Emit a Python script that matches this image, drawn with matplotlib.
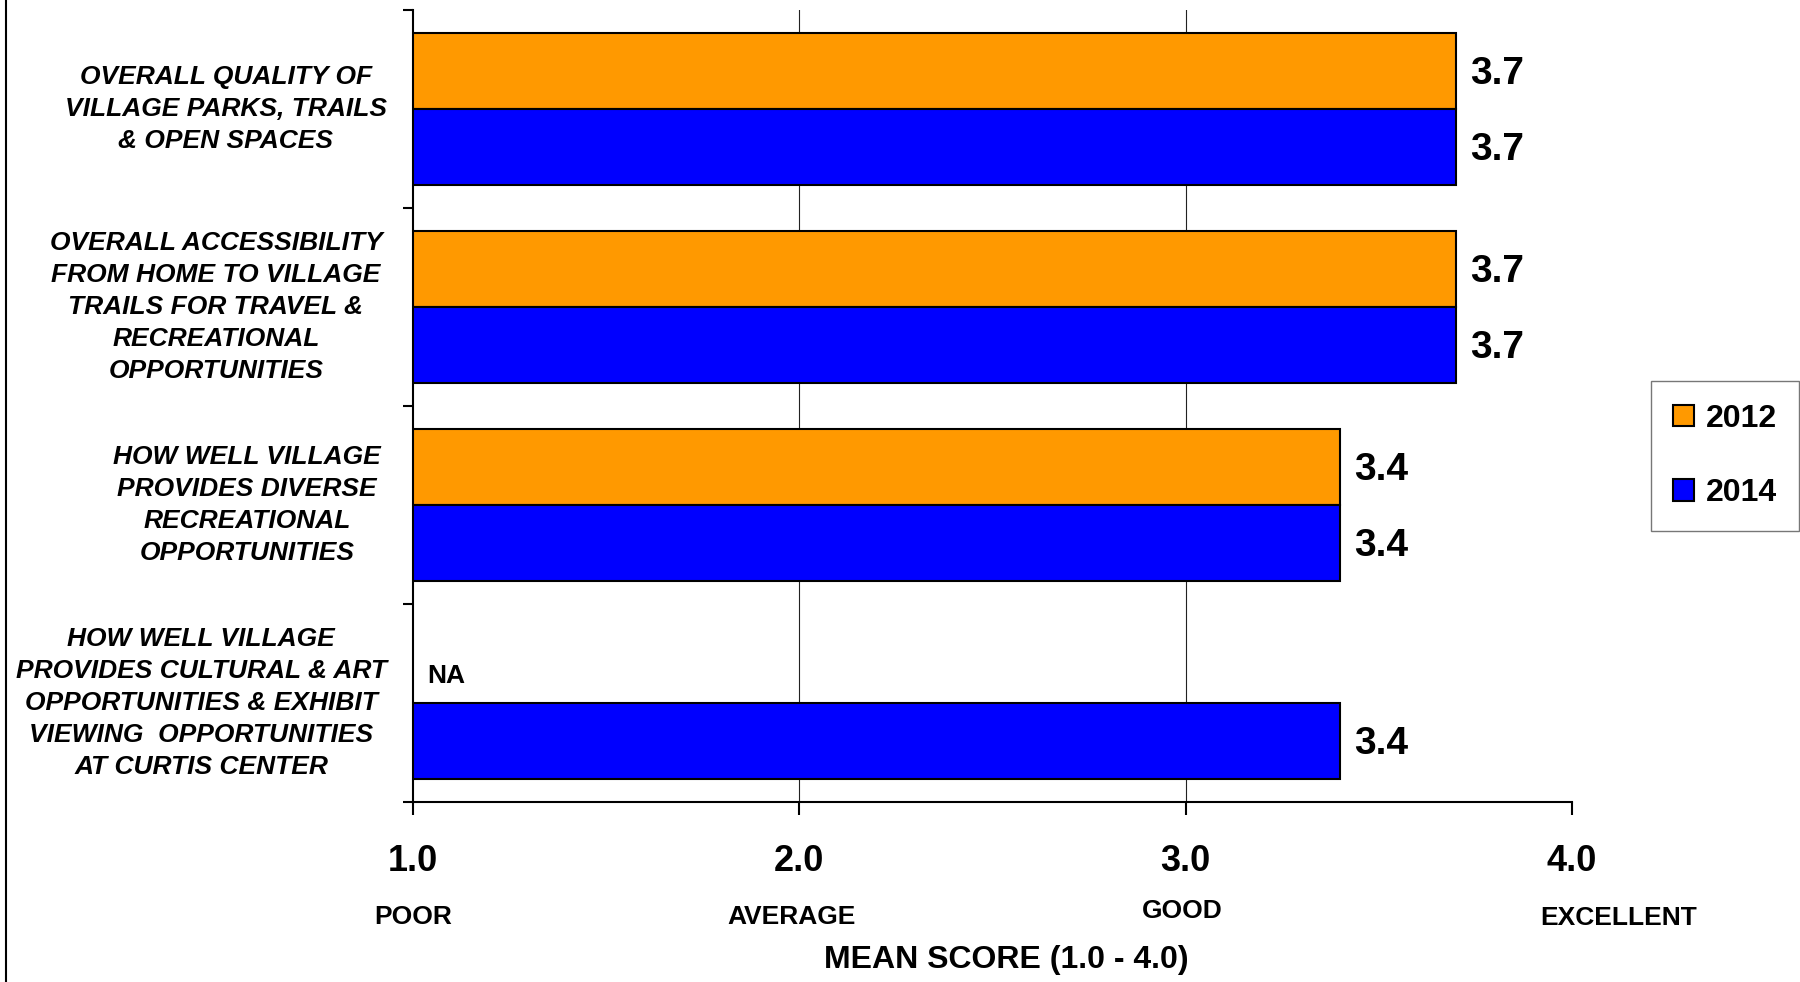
import numpy as np
import matplotlib.pyplot as plt
import matplotlib.transforms as mtransforms
from matplotlib.lines import Line2D

plt.rcParams['font.family'] = ['Liberation Sans', 'DejaVu Sans']

categories = [
    'OVERALL QUALITY OF\nVILLAGE PARKS, TRAILS\n& OPEN SPACES',
    'OVERALL ACCESSIBILITY\nFROM HOME TO VILLAGE\nTRAILS FOR TRAVEL &\nRECREATIONAL\nOPPORTUNITIES',
    'HOW WELL VILLAGE\nPROVIDES DIVERSE\nRECREATIONAL\nOPPORTUNITIES',
    'HOW WELL VILLAGE\nPROVIDES CULTURAL & ART\nOPPORTUNITIES & EXHIBIT\nVIEWING  OPPORTUNITIES\nAT CURTIS CENTER',
]
scores_2012 = [3.7, 3.7, 3.4, None]   # last item not asked in 2012
scores_2014 = [3.7, 3.7, 3.4, 3.4]
years = ['2012', '2014']
scale_ticks = [1.0, 2.0, 3.0, 4.0]
scale_words = ['POOR', 'AVERAGE', 'GOOD', 'EXCELLENT']

orange = '#FF9900'
blue = '#0000FF'

W, H = 1800, 982
fig = plt.figure(figsize=(W / 100, H / 100), dpi=100)
ax = fig.add_axes([413 / W, 1 - 802 / H, (1572 - 413) / W, (802 - 10) / H])

y = np.arange(len(categories))
bh = 0.384
base = 1.0

for i, (a, b) in enumerate(zip(scores_2012, scores_2014)):
    if a is not None:
        ax.barh(y[i] - bh / 2, a - base, left=base, height=bh, color=orange,
                edgecolor='black', linewidth=1.5, zorder=3)
        ax.annotate(f'{a:.1f}', (a, y[i] - bh / 2), xytext=(10, -2), textcoords='offset points',
                    ha='left', va='center', fontsize=28, fontweight='bold')
    else:
        ax.annotate('NA', (base, y[i] - bh / 2), xytext=(10, -8), textcoords='offset points',
                    ha='left', va='center', fontsize=19, fontweight='bold')
    ax.barh(y[i] + bh / 2, b - base, left=base, height=bh, color=blue,
            edgecolor='black', linewidth=1.5, zorder=3)
    ax.annotate(f'{b:.1f}', (b, y[i] + bh / 2), xytext=(10, -2), textcoords='offset points',
                ha='left', va='center', fontsize=28, fontweight='bold')

for gx in [2.0, 3.0]:
    ax.axvline(gx, color='#222222', linewidth=0.8, zorder=1)

ax.set_xlim(1.0, 4.0)
ax.set_ylim(len(categories) - 0.5, -0.5)
ax.set_xticks(scale_ticks)
ax.set_xticklabels([f'{t:.1f}' for t in scale_ticks], fontsize=26, fontweight='bold')
ax.set_yticks(np.arange(len(categories) + 1) - 0.5)
ax.set_yticklabels([])
ax.tick_params(axis='x', length=9.5, width=1.5, pad=21)
ax.tick_params(axis='y', length=7.5, width=1.5)
for s in ['top', 'right']:
    ax.spines[s].set_visible(False)
for s in ['left', 'bottom']:
    ax.spines[s].set_linewidth(1.5)

# category text, centred per row left of the axis
label_x = [226, 216, 247, 201]
trans = mtransforms.blended_transform_factory(fig.transFigure, ax.transData)
for i, lab in enumerate(categories):
    ax.text(label_x[i] / W, y[i], lab, transform=trans, ha='center', va='center',
            multialignment='center', fontsize=19, fontweight='bold', style='italic',
            linespacing=1.41)

# scale words under the tick numbers
word_x = [1.0, 1.98, 2.99, 4.12]
word_y = [917, 917, 911, 918]
xtrans = mtransforms.blended_transform_factory(ax.transData, fig.transFigure)
for wx, wy, w in zip(word_x, word_y, scale_words):
    ax.text(wx, 1 - wy / H, w, transform=xtrans, ha='center', va='center',
            fontsize=19, fontweight='bold')

fig.text(1006 / W, 1 - 960 / H, 'MEAN SCORE (1.0 - 4.0)', ha='center', va='center',
         fontsize=23, fontweight='bold')

handles = [plt.Rectangle((0, 0), 1, 1, facecolor=c, edgecolor='black', linewidth=1.5)
           for c in [orange, blue]]
leg = fig.legend(handles, years, loc='center', bbox_to_anchor=(1725 / W, 1 - 456 / H),
                 prop={'size': 23, 'weight': 'bold'}, frameon=True, fancybox=False,
                 edgecolor='#555555', handlelength=0.66, handleheight=0.66,
                 handletextpad=0.35, labelspacing=1.4, borderpad=0.7, borderaxespad=0)
leg.get_frame().set_linewidth(1.0)

fig.add_artist(Line2D([6 / W, 6 / W], [0, 1], color='black', linewidth=1.5))

fig.savefig('out.png', dpi=100)
